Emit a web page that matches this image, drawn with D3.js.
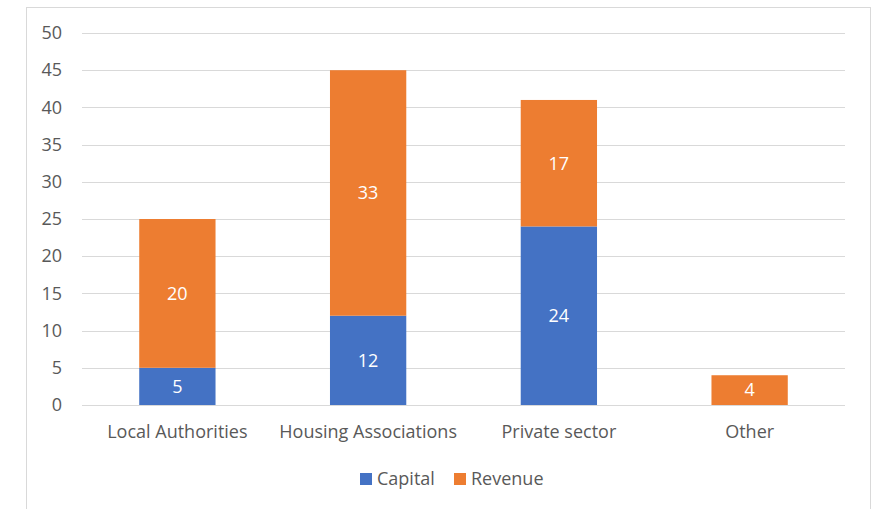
<!DOCTYPE html>
<html>
<head>
<meta charset="utf-8">
<script src="https://cdn.jsdelivr.net/npm/d3@7"></script>
<style>
  body { margin: 0; background: #fff; }
  text { font-family: "Open Sans", Lato, sans-serif; }
</style>
</head>
<body>
<div id="chart"></div>
<script>
const categories = ['Local Authorities', 'Housing Associations', 'Private sector', 'Other'];
const capital = [5, 12, 24, 0];
const revenue = [20, 33, 17, 4];
const seriesNames = ['Capital', 'Revenue'];
const seriesColors = ['#4472c4', '#ed7d31'];
const yTicks = [0, 5, 10, 15, 20, 25, 30, 35, 40, 45, 50];

const W = 879, H = 509;
const margin = { top: 33, right: 34, bottom: 104, left: 82 };
const width = W - margin.left - margin.right;
const height = H - margin.top - margin.bottom;
const fontSize = '18px';

const svg = d3.select('#chart').append('svg')
  .attr('width', W)
  .attr('height', H);

// chart frame (bottom edge runs off the picture)
svg.append('rect')
  .attr('x', 26.5).attr('y', 7.5)
  .attr('width', 844).attr('height', 520)
  .attr('fill', 'none')
  .attr('stroke', '#d9d9d9');

const g = svg.append('g')
  .attr('transform', `translate(${margin.left},${margin.top})`);

const rows = categories.map((c, i) => ({ cat: c, Capital: capital[i], Revenue: revenue[i] }));
const stacked = d3.stack().keys(seriesNames)(rows);

const x = d3.scaleBand()
  .domain(categories)
  .range([0, width])
  .paddingInner(0.6)
  .paddingOuter(0.3);

const y = d3.scaleLinear()
  .domain([0, 50])
  .range([height, 0]);

// gridlines
g.append('g')
  .selectAll('line')
  .data(yTicks)
  .enter().append('line')
    .attr('x1', 0).attr('x2', width)
    .attr('y1', d => Math.round(y(d)) + 0.5)
    .attr('y2', d => Math.round(y(d)) + 0.5)
    .attr('stroke', '#d9d9d9')
    .attr('stroke-width', 1);

// Y axis labels
const yAxis = g.append('g')
  .call(d3.axisLeft(y).tickValues(yTicks).tickSize(0).tickPadding(20));
yAxis.select('.domain').remove();
yAxis.selectAll('text')
  .attr('fill', '#595959')
  .style('font-size', fontSize);

// X axis labels
const xAxis = g.append('g')
  .attr('transform', `translate(0,${height})`)
  .call(d3.axisBottom(x).tickSize(0).tickPadding(20));
xAxis.select('.domain').remove();
xAxis.selectAll('text')
  .attr('fill', '#595959')
  .style('font-size', fontSize);

// bars
const layers = g.selectAll('.layer')
  .data(stacked)
  .enter().append('g')
    .attr('class', 'layer')
    .attr('fill', (d, i) => seriesColors[i]);

layers.selectAll('rect')
  .data(d => d)
  .enter().append('rect')
    .attr('x', d => x(d.data.cat))
    .attr('y', d => y(d[1]))
    .attr('width', x.bandwidth())
    .attr('height', d => y(d[0]) - y(d[1]));

// data labels
layers.selectAll('text')
  .data(d => d.filter(s => s[1] - s[0] > 0))
  .enter().append('text')
    .attr('x', d => x(d.data.cat) + x.bandwidth() / 2)
    .attr('y', d => y((d[0] + d[1]) / 2))
    .attr('dy', '0.35em')
    .attr('text-anchor', 'middle')
    .attr('fill', '#fff')
    .style('font-size', fontSize)
    .text(d => d[1] - d[0]);

// legend
const legendX = [360, 454];
const legend = svg.append('g')
  .selectAll('g')
  .data(seriesNames)
  .enter().append('g')
    .attr('transform', (d, i) => `translate(${legendX[i]},473)`);

legend.append('rect')
  .attr('width', 12).attr('height', 12)
  .attr('fill', (d, i) => seriesColors[i]);

legend.append('text')
  .attr('x', 17).attr('y', 6)
  .attr('dy', '0.35em')
  .attr('fill', '#595959')
  .style('font-size', fontSize)
  .text(d => d);
</script>
</body>
</html>
